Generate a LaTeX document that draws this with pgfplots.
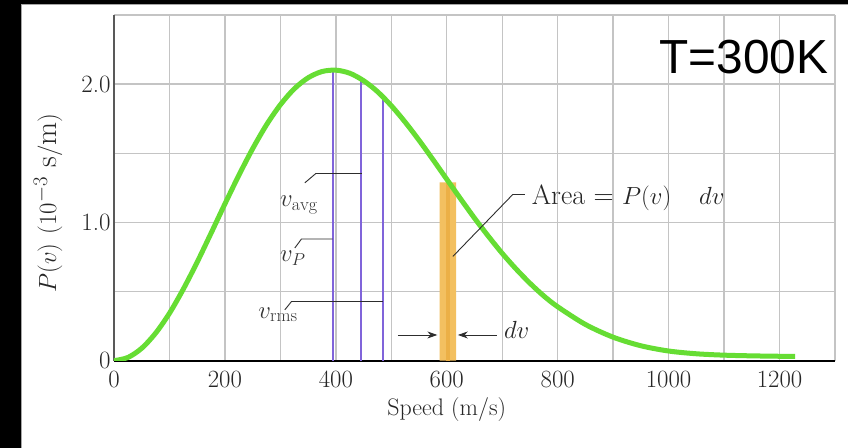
\documentclass[border=0pt]{standalone}
\usepackage{fontspec}
\newfontfamily\arialfont{Liberation Sans}
\usepackage{pgfplots}
\pgfplotsset{compat=1.18}
\usetikzlibrary{arrows.meta}
\definecolor{curvegreen}{RGB}{102,221,51}
\definecolor{vpurple}{RGB}{128,100,218}
\definecolor{barorange}{RGB}{243,192,96}
\definecolor{barorangedark}{RGB}{236,176,70}
\definecolor{gridgray}{RGB}{196,196,196}
\definecolor{leader}{RGB}{45,45,45}
\begin{document}
\begin{tikzpicture}[x=1bp,y=1bp]
\fill[black] (-114,-87.3) rectangle (734,360.7);
\fill[white] (-93,-87.3) rectangle (734,356.7);
\draw[gray!70, line width=0.8bp] (-93,-87.3) -- (-93,356.7) -- (734,356.7);
\begin{axis}[
  at={(0,0)}, anchor=south west,
  scale only axis, width=721bp, height=345.7bp,
  xmin=0, xmax=1300, ymin=0, ymax=2.5,
  axis x line=bottom, axis y line=left,
  x axis line style={-, black, line width=2bp},
  y axis line style={-, black!65, line width=1.5bp},
  xtick={0,200,...,1200}, minor xtick={100,300,...,1300},
  ytick={0,1,2}, yticklabels={0,1.0,2.0}, minor ytick={0.5,1.5,2.5},
  /pgf/number format/1000 sep={},
  grid=both,
  grid style={gridgray, line width=1.4bp},
  minor grid style={gridgray, line width=1.4bp},
  major tick length=0, minor tick length=0,
  tick label style={font=\fontsize{25}{29}\selectfont, text=black!85},
  xticklabel style={yshift=-7bp},
  label style={font=\fontsize{24}{28}\selectfont, text=black!85},
  xlabel={Speed (m/s)},
  xlabel style={at={(rel axis cs:0.4615,-0.1417)}, anchor=center},
  ylabel={$P(v)$ $(10^{-3}\ \mathrm{s/m})$},
  ylabel style={at={(rel axis cs:-0.0915,0.456)}, anchor=center, font=\fontsize{30}{34}\selectfont},
]
% characteristic speeds
\addplot[vpurple, line width=2bp] coordinates {(395,0) (395,2.09)};
\addplot[vpurple, line width=2bp] coordinates {(446,0) (446,2.02)};
\addplot[vpurple, line width=2bp] coordinates {(485,0) (485,1.89)};
% strip of width dv
\addplot[fill=barorange, draw=none] coordinates {(587,0) (587,1.29) (617,1.29) (617,0)} \closedcycle;
\addplot[barorangedark, line width=4bp] coordinates {(602,0) (602,1.29)};
% distribution curve
\addplot[curvegreen, line width=5bp, smooth] coordinates {
(0,0) (25,0.023) (50,0.090) (75,0.199) (100,0.343) (125,0.518) (150,0.713)
(175,0.922) (200,1.134) (225,1.340) (250,1.533) (275,1.706) (300,1.851)
(325,1.966) (350,2.046) (375,2.091) (400,2.101) (425,2.079) (450,2.025)
(475,1.946) (500,1.844) (525,1.725) (550,1.594) (575,1.455) (600,1.312)
(625,1.170) (650,1.031) (675,0.900) (700,0.776) (725,0.663) (750,0.560)
(775,0.468) (800,0.390) (850,0.262) (900,0.170) (950,0.108) (1000,0.070)
(1050,0.050) (1100,0.040) (1150,0.035) (1200,0.032) (1228,0.031)};
% leader lines
\addplot[leader, line width=0.9bp] coordinates {(344,1.286) (364,1.354) (447,1.354)};
\addplot[leader, line width=0.9bp] coordinates {(326,0.815) (338,0.880) (394,0.880)};
\addplot[leader, line width=0.9bp] coordinates {(308,0.368) (320,0.428) (485,0.428)};
\addplot[leader, line width=0.9bp] coordinates {(611,0.754) (719,1.202) (741,1.202)};
% dv arrows
\addplot[leader, line width=0.9bp, -{Stealth[length=10bp,width=7bp]}] coordinates {(512,0.186) (583,0.186)};
\addplot[leader, line width=0.9bp, -{Stealth[length=10bp,width=7bp]}] coordinates {(690,0.186) (620,0.186)};
% labels
\node[anchor=base west, inner sep=0, font=\fontsize{26}{30}\selectfont, text=black!80] at (axis cs:299,1.113) {$v_{\mathrm{avg}}$};
\node[anchor=base west, inner sep=0, font=\fontsize{26}{30}\selectfont, text=black!80] at (axis cs:299,0.716) {$v_{P}$};
\node[anchor=base west, inner sep=0, font=\fontsize{26}{30}\selectfont, text=black!80] at (axis cs:260,0.307) {$v_{\mathrm{rms}}$};
\node[anchor=base west, inner sep=0, font=\fontsize{28}{32}\selectfont, text=black!85] at (axis cs:753,1.13) {Area = $P(v)$\quad$dv$};
\node[anchor=base west, inner sep=0, font=\fontsize{25}{29}\selectfont, text=black!85] at (axis cs:703,0.162) {$dv$};
\node[anchor=base east, inner sep=0, font=\arialfont\fontsize{48}{48}\selectfont] at (rel axis cs:0.9907,0.8314) {T=300K};
\end{axis}
\pgfresetboundingbox
\useasboundingbox (-114,-87.3) rectangle (734,360.7);
\end{tikzpicture}
\end{document}
